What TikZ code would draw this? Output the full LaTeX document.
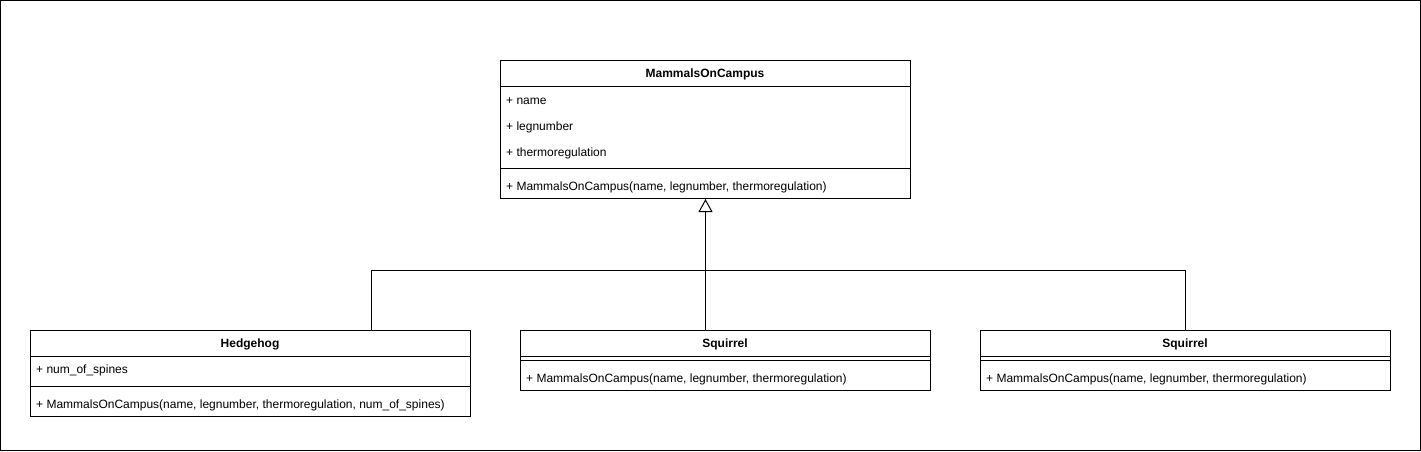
\documentclass[tikz,border=0pt]{standalone}
\usepackage{fontspec}
\setmainfont{Liberation Sans}
\usetikzlibrary{arrows.meta,calc}
\begin{document}
\begin{tikzpicture}[x=1pt,y=-1pt,
  box/.style={draw, line width=1pt, inner sep=0pt, anchor=north west, fill=white},
  txt/.style={anchor=west, inner sep=0pt, font=\fontsize{12}{14}\selectfont},
  ttl/.style={inner sep=0pt, font=\fontsize{12}{14}\selectfont\bfseries},
  inh/.style={-{Triangle[open,length=13pt,width=14pt]}, line width=1pt},
  conn/.style={line width=1pt}]
\useasboundingbox (0,0) rectangle (1421,451);
\draw[line width=1pt] (0.5,0.5) rectangle (1420.5,450.5);

% classes
\node[box, minimum width=410pt, minimum height=138pt] (mam) at (500,60) {};
\node[box, minimum width=440pt, minimum height=86pt] (hed) at (30,330) {};
\node[box, minimum width=410pt, minimum height=60pt] (sq1) at (520,330) {};
\node[box, minimum width=410pt, minimum height=60pt] (sq2) at (980,330) {};

% MammalsOnCampus
\node[ttl] (mamt) at (705,74) {MammalsOnCampus};
\draw[conn] ($(mam.north west)+(0,26)$) -- ($(mam.north east)+(0,26)$);
\node[txt] (a1) at (506,101) {+ name};
\node[txt] (a2) at (506,127) {+ legnumber};
\node[txt] (a3) at (506,153) {+ thermoregulation};
\draw[conn] ($(mam.north west)+(0,108)$) -- ($(mam.north east)+(0,108)$);
\node[txt] (m1) at (506,187) {+ MammalsOnCampus(name, legnumber, thermoregulation)};

% Hedgehog
\node[ttl] (hedt) at (250,344) {Hedgehog};
\draw[conn] ($(hed.north west)+(0,26)$) -- ($(hed.north east)+(0,26)$);
\node[txt] (ha1) at (36,370) {+ num\_of\_spines};
\draw[conn] ($(hed.north west)+(0,56)$) -- ($(hed.north east)+(0,56)$);
\node[txt] (hm1) at (36,405) {+ MammalsOnCampus(name, legnumber, thermoregulation, num\_of\_spines)};

% Squirrel 1
\node[ttl] (sq1t) at (725,344) {Squirrel};
\draw[conn] ($(sq1.north west)+(0,26)$) -- ($(sq1.north east)+(0,26)$);
\draw[conn] ($(sq1.north west)+(0,30)$) -- ($(sq1.north east)+(0,30)$);
\node[txt] (s1m) at (526,379) {+ MammalsOnCampus(name, legnumber, thermoregulation)};

% Squirrel 2
\node[ttl] (sq2t) at (1185,344) {Squirrel};
\draw[conn] ($(sq2.north west)+(0,26)$) -- ($(sq2.north east)+(0,26)$);
\draw[conn] ($(sq2.north west)+(0,30)$) -- ($(sq2.north east)+(0,30)$);
\node[txt] (s2m) at (986,379) {+ MammalsOnCampus(name, legnumber, thermoregulation)};

% connectors
\coordinate (j) at (705,270);
\draw[conn] ($(hed.north)+(121,0)$) |- (j);
\draw[conn] (sq2.north) |- (j);
\draw[inh] (sq1.north -| mam.south) -- (mam.south);
\end{tikzpicture}
\end{document}
